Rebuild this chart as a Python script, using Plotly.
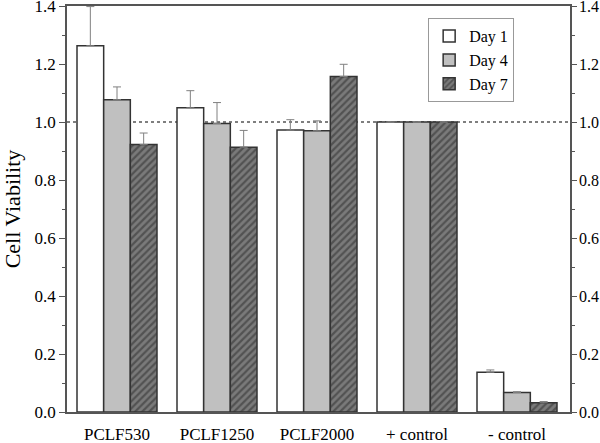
import plotly.graph_objects as go

categories = ["PCLF530", "PCLF1250", "PCLF2000", "+ control", "- control"]
series_names = ["Day 1", "Day 4", "Day 7"]
day1 = [1.263, 1.049, 0.972, 1.0, 0.137]
day4 = [1.077, 0.995, 0.970, 1.0, 0.067]
day7 = [0.922, 0.913, 1.157, 1.0, 0.032]
err1 = [0.135, 0.059, 0.036, 0.0, 0.008]
err4 = [0.044, 0.072, 0.034, 0.0, 0.003]
err7 = [0.040, 0.058, 0.042, 0.0, 0.004]
y_ticks = [0.0, 0.2, 0.4, 0.6, 0.8, 1.0, 1.2, 1.4]

FONT = "Liberation Serif"
LINE = "#333333"
AX = "#555555"
x = list(range(len(categories)))


def fnt(size):
    return dict(family=FONT, size=size, color="black")


fig = go.Figure()
styles = [
    dict(color="white"),
    dict(color="#c0c0c0"),
    dict(color="#7a7a7a", pattern=dict(shape="/", bgcolor="#7a7a7a", fgcolor="#2a2a2a", size=5, solidity=0.45)),
]
for name, vals, errs, st in zip(series_names, [day1, day4, day7], [err1, err4, err7], styles):
    fig.add_trace(go.Bar(
        x=x, y=vals, name=name,
        marker=dict(line=dict(color=LINE, width=1.5), **st),
        error_y=dict(type="data", symmetric=False, array=errs, arrayminus=[0]*len(errs),
                     color="#808080", thickness=1, width=4),
    ))

fig.add_shape(type="line", xref="paper", x0=0, x1=1, yref="y", y0=1.0, y1=1.0,
              line=dict(color="black", width=1.2, dash="dot"), layer="below")

fig.update_layout(
    width=600, height=443,
    margin=dict(l=67, r=30, t=6, b=31, autoexpand=False),
    paper_bgcolor="white", plot_bgcolor="white",
    barmode="group", bargap=0.2, bargroupgap=0,
    font=fnt(17),
    showlegend=True,
    legend=dict(x=0.718, y=0.97, xanchor="left", yanchor="top",
                bordercolor="#999999", borderwidth=1, bgcolor="white",
                font=fnt(16), tracegroupgap=0, itemwidth=30),
    xaxis=dict(range=[-0.5, 4.53], tickvals=x, ticktext=categories, showgrid=False,
               showline=True, linecolor=AX, linewidth=1.5, mirror=True, automargin=False,
               ticks="", ticklabelstandoff=6, tickfont=fnt(17), zeroline=False),
    yaxis=dict(range=[0, 1.4], tickvals=y_ticks, tickformat=".1f", showgrid=False, automargin=False,
               showline=True, linecolor=AX, linewidth=1.5, zeroline=False,
               ticks="outside", ticklen=6, tickcolor=AX, tickwidth=1.2,
               ticklabeloverflow="allow",
               minor=dict(ticks="outside", ticklen=3, dtick=0.1, tickcolor=AX),
               title=dict(text="Cell Viability", font=fnt(22), standoff=10),
               tickfont=fnt(17)),
    yaxis2=dict(range=[0, 1.4], overlaying="y", side="right", tickvals=y_ticks, tickformat=".1f",
                showgrid=False, showline=True, linecolor=AX, linewidth=1.5, zeroline=False,
                automargin=False, ticklabeloverflow="allow",
                ticks="outside", ticklen=5, tickcolor=AX, tickwidth=1.2,
                ticklabelstandoff=-1,
                minor=dict(ticks="outside", ticklen=3, dtick=0.1, tickcolor=AX),
                tickfont=fnt(16)),
)
fig.add_trace(go.Scatter(x=[None], y=[None], yaxis="y2", showlegend=False, hoverinfo="skip"))

fig.write_html("out.html", config={"displayModeBar": False},
               post_script="document.body.style.margin='0';")
